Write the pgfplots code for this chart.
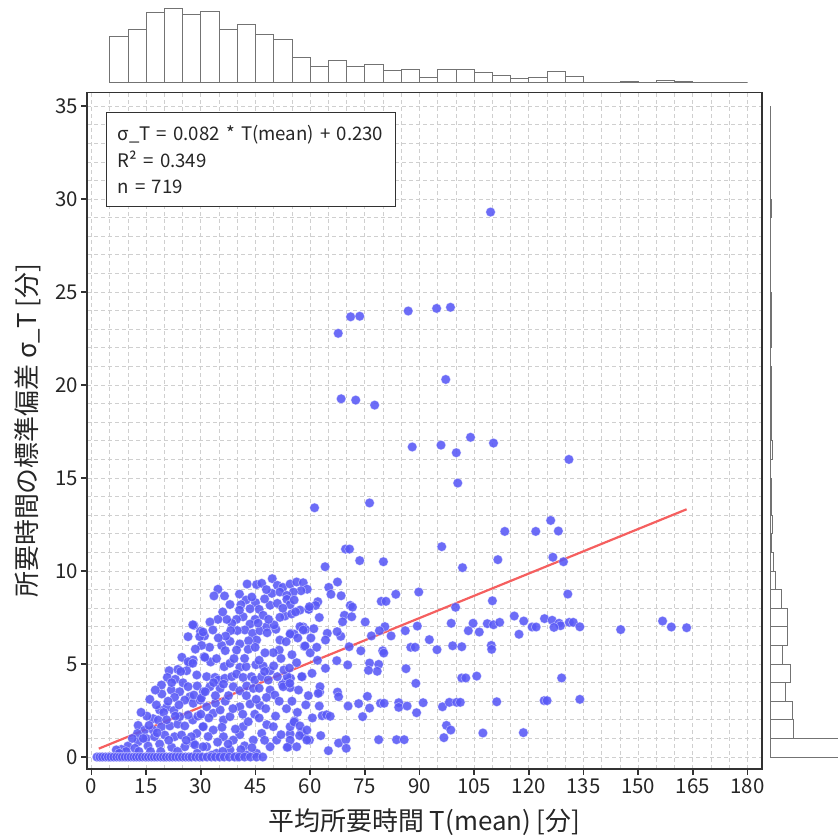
\documentclass[border=0pt]{standalone}
\usepackage{fontspec}
\setmainfont{Noto Sans CJK JP}
\usepackage{pgfplots}
\pgfplotsset{compat=1.18}
\definecolor{ptblue}{RGB}{88,88,246}
\definecolor{regred}{RGB}{245,95,95}
\definecolor{framec}{RGB}{50,50,50}
\definecolor{histc}{RGB}{115,115,115}

\pgfplotstableread{
x y
109.5 29.3
71.1 23.67
73.6 23.7
67.7 22.78
86.9 23.98
94.7 24.12
98.5 24.18
97.2 20.3
68.5 19.26
72.5 19.19
77.7 18.92
88.0 16.67
95.9 16.77
100.1 16.36
104.0 17.19
110.3 16.88
131.0 16.0
100.5 14.73
61.2 13.4
76.3 13.66
126.0 12.72
113.4 12.13
121.9 12.13
128.1 12.15
69.7 11.18
70.8 11.18
96.1 11.31
73.6 10.56
80.1 10.5
111.5 10.61
126.6 10.74
129.5 10.5
64.1 10.23
101.8 10.18
67.5 9.41
65.1 9.12
65.7 8.75
68.5 8.67
83.5 8.75
89.8 8.87
130.7 8.76
79.5 8.37
80.8 8.37
110.0 8.4
62.1 8.35
61.5 8.15
59.7 7.97
71.0 8.15
71.6 8.06
99.9 8.05
69.4 7.62
71.4 7.54
68.9 7.27
75.1 7.26
116.0 7.58
118.6 7.31
124.3 7.44
126.4 7.35
128.3 7.19
128.7 7.06
126.9 6.97
131.1 7.24
132.2 7.24
134.0 7.0
145.2 6.85
156.7 7.31
159.1 6.99
163.3 6.95
98.7 7.19
104.7 7.19
108.6 7.17
110.3 7.11
112.0 7.24
120.9 6.99
122.0 6.99
117.3 6.6
103.4 6.79
106.4 6.72
89.4 7.04
86.1 6.79
80.5 7.01
79.0 6.79
82.2 6.51
76.8 6.51
92.7 6.31
99.1 5.98
101.6 5.93
109.7 6.0
109.8 5.79
94.8 5.77
87.6 5.9
88.8 5.9
79.9 5.71
80.2 5.59
73.9 5.71
70.7 5.93
67.3 5.18
70.3 4.95
76.3 5.05
78.8 4.98
78.4 4.61
76.0 4.66
64.2 4.77
86.3 4.75
89.0 3.96
101.6 4.25
102.7 4.25
105.7 4.35
129.0 4.25
62.6 3.49
67.5 3.49
67.8 3.24
70.4 2.74
73.3 2.87
75.7 3.26
76.3 2.63
79.3 2.89
80.3 2.89
84.3 2.92
84.3 2.67
86.6 2.74
91.0 2.92
89.2 2.38
96.3 2.7
98.2 2.94
100.2 2.94
101.2 2.94
111.2 2.97
124.2 3.03
125.0 3.03
134.0 3.1
62.5 2.74
63.3 2.22
64.5 2.27
65.5 2.19
74.4 2.17
60.6 2.1
55.7 1.94
97.4 1.7
98.6 1.45
107.4 1.29
118.5 1.31
96.7 1.04
78.8 0.93
83.7 0.93
85.8 0.93
62.9 1.15
67.8 0.75
69.8 0.93
69.9 0.47
65.0 0.34
54.0 0.55
54.5 1.24
57.6 1.34
58.5 1.09
59.8 0.91
57.1 1.15
54.5 1.63
55.6 1.88
54.6 4.23
57.8 4.32
56.3 5.07
58.4 5.95
53.2 4.03
64.7 6.65
64.2 6.29
68.4 6.49
67.4 6.74
58.1 6.99
58.7 6.85
54.6 6.65
55.6 6.61
53.7 4.32
52.4 3.89
54.5 3.73
42.7 9.3
45.3 9.27
46.7 9.34
49.6 9.59
51.0 9.23
52.5 9.12
54.5 9.3
56.3 9.41
58.1 9.37
59.2 9.02
57.5 8.94
55.4 8.87
49.5 8.8
51.7 8.87
53.6 8.69
34.7 9.02
33.6 8.66
36.5 8.66
40.6 8.76
42.4 8.44
45.0 8.3
43.5 7.97
46.0 7.94
41.0 8.19
49.0 8.16
51.0 8.26
53.6 8.48
54.5 8.19
55.6 8.44
57.2 7.9
59.6 7.94
59.8 8.08
53.1 7.58
54.9 7.69
51.7 7.51
47.1 7.62
44.9 7.4
41.6 7.54
39.8 7.4
38.5 7.19
37.1 7.4
34.7 7.4
32.5 7.26
33.3 6.83
29.9 6.76
31.0 6.51
28.1 7.08
43.5 7.15
42.1 6.83
44.2 6.65
46.2 6.79
48.1 7.01
48.2 6.68
50.6 6.87
50.1 7.1
54.5 6.61
57.2 7.01
58.1 6.83
58.6 5.97
51.7 6.29
51.5 5.75
49.9 5.61
45.3 6.29
43.1 6.25
40.7 6.08
38.0 6.22
35.7 6.0
36.7 5.72
39.8 5.75
43.0 5.79
44.9 5.9
30.9 5.39
32.7 5.11
34.3 5.29
36.4 4.86
38.0 5.04
39.1 5.29
40.7 4.82
42.4 4.86
45.1 4.96
47.1 4.89
49.0 4.64
51.0 4.32
52.8 4.68
54.3 4.78
57.7 4.32
31.6 4.32
33.9 4.28
34.8 4.14
36.6 4.23
38.5 4.32
39.8 4.46
41.6 4.28
43.9 4.32
44.8 4.14
46.7 4.32
48.5 4.14
27.0 5.04
27.9 5.22
28.9 4.41
29.0 3.82
30.7 3.51
32.5 3.78
35.3 3.69
36.2 3.92
38.9 3.78
40.7 3.56
42.6 3.82
44.4 3.69
49.0 3.6
50.3 3.33
52.6 3.78
54.4 3.96
62.7 3.78
62.2 3.42
27.0 3.24
27.9 2.89
29.8 3.06
31.6 2.7
33.4 2.35
35.3 2.53
36.2 1.99
38.0 2.17
40.7 2.7
43.5 2.85
46.2 2.78
48.1 1.74
49.9 1.63
46.7 1.27
44.4 0.91
41.6 1.63
40.7 1.2
38.9 0.91
36.2 1.09
33.4 1.45
30.7 1.63
28.9 1.27
27.9 0.74
31.6 0.55
34.3 0.2
38.0 0.38
39.8 0.02
42.6 0.11
45.3 0.2
49.0 0.55
50.8 0.91
54.5 0.91
57.2 1.67
59.1 1.45
59.1 0.91
56.3 0.55
53.7 0.52
27.8 7.11
26.5 6.47
29.7 6.47
30.6 6.72
24.8 5.36
26.5 5.12
27.8 5.04
21.3 4.64
23.7 4.71
26.1 4.64
31.1 5.36
20.8 4.28
23.0 4.18
25.1 3.99
26.5 3.78
19.2 3.87
21.9 3.6
24.2 3.51
19.3 3.39
22.8 3.21
25.6 3.06
28.1 3.33
30.1 3.16
31.2 3.51
18.7 2.53
20.6 2.67
16.9 2.06
18.3 1.99
15.2 2.2
12.8 1.7
14.6 1.45
16.9 1.45
19.2 1.63
21.5 1.67
23.7 1.77
25.6 1.67
27.8 1.99
29.2 2.2
30.6 1.63
26.5 2.26
24.2 2.17
12.6 1.27
15.0 1.0
17.3 1.09
20.1 1.18
22.8 1.09
24.7 1.18
27.4 1.09
12.8 0.82
15.5 0.59
18.7 0.7
22.0 0.52
25.6 0.55
28.4 0.65
30.6 0.55
10.0 0.59
11.9 0.47
8.2 0.41
6.8 0.38
16.0 3.1
17.8 2.8
19.8 2.4
21.0 3.0
22.6 2.5
24.0 2.8
15.8 1.7
18.0 1.3
20.6 2.0
23.0 2.2
13.6 2.4
14.2 1.0
11.2 1.0
16.2 0.3
19.0 0.3
21.2 0.9
23.6 0.3
26.0 0.9
13.0 0.3
9.5 0.3
7.6 0.2
17.5 3.6
22.0 4.0
24.5 4.6
32.0 1.1
34.6 0.8
35.8 1.6
37.5 0.7
39.5 1.5
42.0 0.6
43.0 1.9
44.8 2.3
41.5 2.3
38.8 2.6
36.7 3.0
34.0 2.9
32.2 2.1
30.0 2.3
29.0 0.2
33.0 0.1
36.0 0.3
41.0 0.4
44.0 0.5
47.5 0.9
46.0 2.1
47.8 2.6
45.2 3.1
42.5 3.3
37.6 3.3
34.0 3.3
33.5 4.0
50.5 2.2
52.0 1.2
53.5 2.6
55.0 3.0
51.5 3.0
56.5 2.4
58.8 2.8
56.8 3.6
59.5 3.3
60.5 4.5
62.0 5.2
60.0 5.6
48.0 3.2
46.0 3.7
47.5 4.6
50.0 4.9
40.0 6.8
38.2 6.8
36.0 7.8
38.0 8.2
44.0 8.6
47.5 8.5
48.0 9.0
52.5 8.0
56.0 7.8
56.6 6.4
53.4 6.2
52.0 5.3
55.0 5.5
47.6 5.6
46.0 5.2
42.0 5.3
48.6 7.4
45.7 7.2
40.6 7.9
36.8 6.5
34.8 6.4
32.4 5.9
30.2 6.0
28.5 5.8
61.0 6.9
62.5 7.5
60.2 6.4
61.8 5.9
1.5 0
2.3 0
3.0 0
3.8 0
4.6 0
5.3 0
6.1 0
6.9 0
7.7 0
8.4 0
9.2 0
10.0 0
10.8 0
11.6 0
12.3 0
13.1 0
13.9 0
14.8 0
15.6 0
16.4 0
17.2 0
18.0 0
18.9 0
19.7 0
20.5 0
21.4 0
22.2 0
23.1 0
24.0 0
24.9 0
25.8 0
26.7 0
27.5 0
28.6 0
29.6 0
30.5 0
31.7 0
32.9 0
34.0 0
35.2 0
36.4 0
37.8 0
39.3 0
40.5 0
42.0 0
43.6 0
45.3 0
47.0 0
}\scatterdata

\pgfplotstableread{
edge count
5 42
10 48
15 64
20 67
25 62
30 65
35 48
40 53
45 44
50 39
55 23
60 15
65 20
70 15
75 17
80 11
85 12
90 5
95 12
100 12
105 9
110 7
115 4
120 5
125 10
130 6
135 0
140 0
145 1
150 0
155 2
160 1
165 0
170 0
175 0
180 0
}\tophist

\pgfplotstableread{
edge count
0 241
1 74
2 69
3 47
4 63
5 38
6 52
7 54
8 33
9 14
10 7
11 3
12 4
13 2
14 1
15 0
16 5
17 1
18 1
19 2
20 1
21 0
22 1
23 3
24 2
25 0
26 0
27 0
28 0
29 1
30 0
31 0
32 0
33 0
34 0
35 0
}\righthist

\begin{document}
\begin{tikzpicture}[x=1bp,y=1bp]
\useasboundingbox (0,0) rectangle (838,837);

\begin{axis}[
  at={(87.3bp,68bp)}, anchor=south west,
  scale only axis, width=674.4bp, height=676.5bp,
  xmin=-1.15, xmax=183.9, ymin=-0.645, ymax=35.73,
  xtick={0,15,...,180}, ytick={0,5,...,35},
  minor xtick={0,5,...,180}, minor ytick={0,1,...,35},
  grid=both,
  major grid style={draw=gray!38, line width=0.7bp, dash pattern=on 4bp off 3bp},
  minor grid style={draw=gray!38, line width=0.7bp, dash pattern=on 4bp off 3bp},
  axis line style={draw=framec, line width=1.8bp},
  tick style={draw=framec, line width=1.4bp},
  major tick length=6bp, minor tick length=0bp,
  tick align=outside, tick pos=left,
  /pgf/number format/assume math mode=true,
  ticklabel style={font=\fontsize{20.5}{23}\selectfont, text=black!85},
  xlabel={平均所要時間 T(mean) [分]},
  ylabel={所要時間の標準偏差 σ\_T [分]},
  label style={font=\fontsize{26}{29}\selectfont, text=black!85},
  xlabel style={at={(axis description cs:0.5,-0.079)}, anchor=center},
  ylabel style={at={(axis description cs:-0.088,0.5)}, anchor=center},
  clip=true,
]
\addplot[only marks, mark=*, mark size=4.8bp,
  mark options={fill=ptblue, draw=white, line width=0.6bp, fill opacity=0.88, draw opacity=0.45}]
  table[x=x, y=y] {\scatterdata};
\addplot[regred, line width=2.2bp] coordinates {(2.0,0.45) (163.3,13.32)};
\end{axis}

\begin{axis}[
  at={(87.3bp,754.3bp)}, anchor=south west,
  scale only axis, width=674.4bp, height=82.7bp,
  xmin=-1.15, xmax=183.9, ymin=0, ymax=75,
  hide axis, clip=false,
]
\addplot[ybar interval, fill=white, draw=histc, line width=0.8bp]
  table[x=edge, y=count] {\tophist};
\end{axis}

\begin{axis}[
  at={(770.7bp,68bp)}, anchor=south west,
  scale only axis, width=67.3bp, height=676.5bp,
  xmin=0, xmax=215, ymin=-0.645, ymax=35.73,
  hide axis, clip=false,
]
\addplot[xbar interval, fill=white, draw=histc, line width=0.8bp]
  table[x=count, y=edge] {\righthist};
\end{axis}

\node[draw=framec, line width=0.9bp, fill=white, anchor=north west,
  minimum width=289.3bp, minimum height=93.7bp, inner xsep=11.5bp,
  align=left, font=\fontsize{18.7}{26.7}\selectfont, text=black!85,
  text width=266bp]
  at (105.7,724.7) {σ\_T = 0.082 * T(mean) + 0.230\\R² = 0.349\\n = 719};
\end{tikzpicture}
\end{document}
